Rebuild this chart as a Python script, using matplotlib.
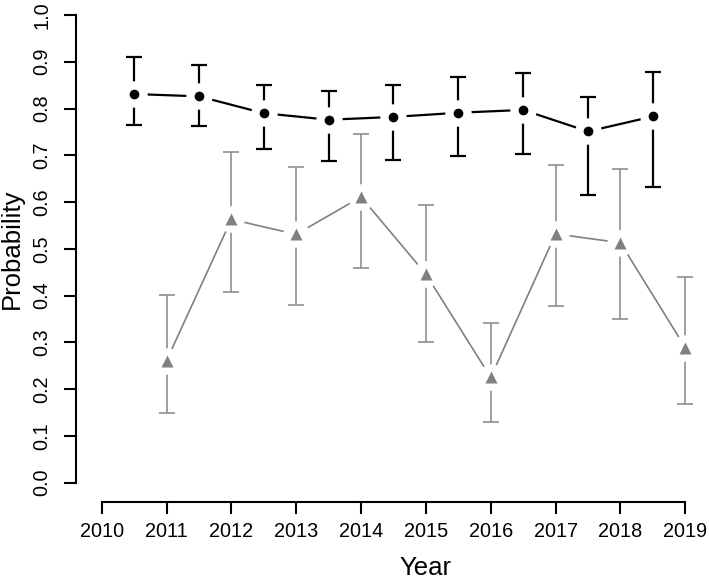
"""Yearly probability estimates with error bars, two series (R base-graphics look)."""

import matplotlib
matplotlib.use("Agg")
import matplotlib.pyplot as plt
import matplotlib.transforms as mtransforms

plt.rcParams["font.family"] = ["Liberation Sans", "DejaVu Sans"]

# black series, plotted between years
years_a = [2010.5, 2011.5, 2012.5, 2013.5, 2014.5, 2015.5, 2016.5, 2017.5, 2018.5]
prob_a = [0.831, 0.826, 0.790, 0.776, 0.782, 0.791, 0.797, 0.751, 0.783]
upper_a = [0.910, 0.892, 0.851, 0.838, 0.850, 0.867, 0.877, 0.825, 0.878]
lower_a = [0.765, 0.763, 0.713, 0.688, 0.689, 0.698, 0.703, 0.615, 0.632]

# grey series, plotted on the years
years_b = [2011, 2012, 2013, 2014, 2015, 2016, 2017, 2018, 2019]
prob_b = [0.261, 0.563, 0.531, 0.611, 0.446, 0.225, 0.532, 0.513, 0.289]
upper_b = [0.401, 0.708, 0.676, 0.746, 0.593, 0.341, 0.679, 0.671, 0.440]
lower_b = [0.150, 0.407, 0.380, 0.458, 0.301, 0.130, 0.377, 0.351, 0.169]

x_ticks = list(range(2010, 2020))
y_ticks = [0.0, 0.1, 0.2, 0.3, 0.4, 0.5, 0.6, 0.7, 0.8, 0.9, 1.0]


def draw_series(ax, x, y, lo, hi, color, bar_color, marker, ms, lw):
    yerr = [[v - l for v, l in zip(y, lo)], [h - v for v, h in zip(y, hi)]]
    ax.errorbar(x, y, yerr=yerr, fmt="none", ecolor=bar_color, elinewidth=lw,
                capsize=6, capthick=lw, zorder=2)
    ax.plot(x, y, color=color, lw=lw, zorder=2)
    # white disc gives the gap round each point, like R's type="b"
    ax.plot(x, y, "o", ms=19, color="white", mec="none", zorder=3)
    ax.plot(x, y, marker, ms=ms, color=color, mec="none", zorder=4)


W, H = 709, 579
fig = plt.figure(figsize=(W / 100, H / 100), dpi=100)
ax = fig.add_axes([76 / W, (H - 501.7) / H, (W - 76) / W, 501.7 / H])

draw_series(ax, years_a, prob_a, lower_a, upper_a, "black", "black", "o", 7, 1.6)
draw_series(ax, years_b, prob_b, lower_b, upper_b, "#808080", "#8f8f8f", "^", 9, 1.2)

ax.set_xlim(2009.604, 2019.366)
ax.set_ylim(-0.0406, 1.032)

for side in ["top", "right"]:
    ax.spines[side].set_visible(False)
ax.spines["left"].set_bounds(0, 1)
ax.spines["bottom"].set_bounds(2010, 2019)
for side in ["left", "bottom"]:
    ax.spines[side].set_linewidth(1.5)

ax.set_xticks(x_ticks)
ax.set_xticklabels([str(v) for v in x_ticks])
ax.set_yticks(y_ticks)
ax.set_yticklabels([f"{v:.1f}" for v in y_ticks], rotation=90, va="center")
ax.tick_params(axis="both", length=8.5, width=1.5, labelsize=14.3)
ax.tick_params(axis="x", pad=6)
ax.tick_params(axis="y", pad=9)

trans = mtransforms.blended_transform_factory(ax.transData, fig.transFigure)
ax.text(2015, (H - 575) / H, "Year", transform=trans, ha="center", va="baseline",
        fontsize=18.5)
trans_y = mtransforms.blended_transform_factory(fig.transFigure, ax.transData)
ax.text(12 / W, 0.5, "Probability", transform=trans_y, ha="center", va="center",
        rotation=90, fontsize=18.5)

fig.savefig("out.png", dpi=100)
